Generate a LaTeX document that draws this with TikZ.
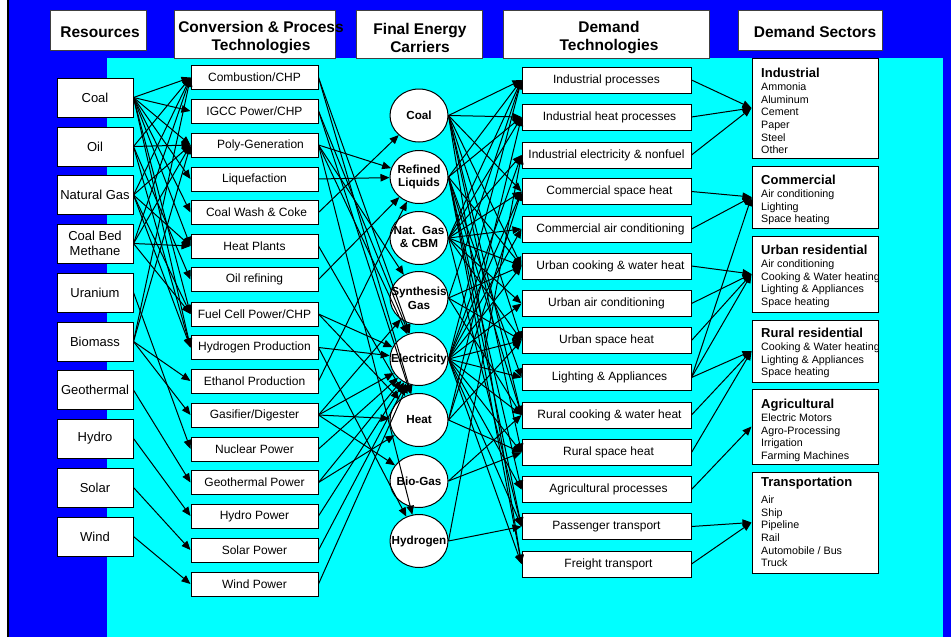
\documentclass[tikz,border=0pt]{standalone}
\usepackage{fontspec}
\setmainfont{Liberation Sans}
\usetikzlibrary{arrows.meta,shapes.geometric}
\definecolor{bgblue}{RGB}{0,0,255}
\definecolor{bgcyan}{RGB}{0,255,255}
\begin{document}
\begin{tikzpicture}[x=1pt,y=-1pt,
  hdr/.style={draw=black!75, fill=white, line width=0.8pt, inner sep=0pt, font=\fontsize{15.5}{18}\selectfont\bfseries, align=center},
  hdrtxt/.style={inner sep=0pt, font=\fontsize{15.5}{18}\selectfont\bfseries, align=center},
  res/.style={draw=black, fill=white, line width=1pt, minimum width=76pt, minimum height=39pt, inner sep=0pt, font=\fontsize{13}{15}\selectfont, align=center},
  conv/.style={draw=black, fill=white, line width=1pt, minimum width=127pt, minimum height=24pt, inner sep=0pt, font=\fontsize{12}{14}\selectfont},
  carr/.style={ellipse, draw=black, fill=white, line width=1pt, minimum width=58pt, minimum height=53pt, inner sep=0pt},
  carrtxt/.style={inner sep=0pt, font=\fontsize{11.7}{13.8}\selectfont\bfseries, align=center},
  dem/.style={draw=black, fill=white, line width=1pt, minimum width=169pt, minimum height=26pt, inner sep=0pt, font=\fontsize{12}{14}\selectfont},
  sec/.style={draw=black, fill=white, line width=1pt, inner sep=0pt, minimum width=126pt},
  sectxt/.style={anchor=north west, inner sep=0pt, align=left, font=\fontsize{10.7}{12.7}\selectfont},
  arr/.style={-{Triangle[length=9pt,width=7.5pt]}, line width=1pt, black},
]
\useasboundingbox (0,0) rectangle (951,637);
% background
\fill[white] (0,0) rectangle (951,637);
\fill[bgblue] (8,0) rectangle (951,637);
\fill[black] (6.8,0) rectangle (8.5,637);
\fill[bgcyan] (107,58) rectangle (943,637);

% headers
\node[hdr, minimum width=96pt, minimum height=40pt] (hRes) at (98,30) {};
\node[hdrtxt] (hResT) at (100,32) {Resources};
\node[hdr, minimum width=161pt, minimum height=48pt] (hConv) at (254.5,34) {};
\node[hdrtxt] (hConvT) at (261,38) {Conversion \& Process\\Technologies};
\node[hdr, minimum width=126pt, minimum height=48pt] (hFin) at (419,34) {};
\node[hdrtxt] (hFinT) at (420,38) {Final Energy\\Carriers};
\node[hdr, minimum width=206pt, minimum height=48pt] (hDem) at (606,34) {};
\node[hdrtxt] (hDemT) at (609,38) {Demand\\Technologies};
\node[hdr, minimum width=144pt, minimum height=40pt] (hSec) at (810,30) {};
\node[hdrtxt] (hSecT) at (815,32) {Demand Sectors};

% resources
\node[res] (rCoal)  at (95,97.5)  {Coal};
\node[res] (rOil)   at (95,146.5) {Oil};
\node[res] (rNG)    at (95,195)   {Natural Gas};
\node[res] (rCBM)   at (95,243.5) {Coal Bed\\Methane};
\node[res] (rUr)    at (95,292.5) {Uranium};
\node[res] (rBio)   at (95,341.5) {Biomass};
\node[res] (rGeo)   at (95,390)   {Geothermal};
\node[res] (rHydro) at (95,438.5) {Hydro};
\node[res] (rSolar) at (95,487.5) {Solar};
\node[res] (rWind)  at (95,536.5) {Wind};

% conversion
\node[conv] (cvComb)  at (254.5,77.5)  {Combustion/CHP};
\node[conv] (cvIGCC)  at (254.5,111)   {IGCC Power/CHP};
\node[conv] (cvPoly)  at (254.5,145)   {\hspace*{12pt}Poly-Generation};
\node[conv] (cvLiq)   at (254.5,179)   {Liquefaction};
\node[conv] (cvWash)  at (254.5,212.5) {\hspace*{4pt}Coal Wash \& Coke};
\node[conv] (cvHeat)  at (254.5,246)   {Heat Plants};
\node[conv] (cvOil)   at (254.5,279.5) {Oil refining};
\node[conv] (cvFuel)  at (254.5,314)   {Fuel Cell Power/CHP};
\node[conv] (cvHyd)   at (254.5,347.5) {Hydrogen Production};
\node[conv] (cvEth)   at (254.5,381)   {Ethanol Production};
\node[conv] (cvGas)   at (254.5,415)   {Gasifier/Digester};
\node[conv] (cvNuc)   at (254.5,449)   {Nuclear Power};
\node[conv] (cvGeo)   at (254.5,482.5) {Geothermal Power};
\node[conv] (cvHydro) at (254.5,516)   {Hydro Power};
\node[conv] (cvSolar) at (254.5,550)   {Solar Power};
\node[conv] (cvWind)  at (254.5,584)   {Wind Power};

% carriers
\node[carr] (cC) at (419,115.5) {};
\node[carr] (cR) at (419,177)   {};
\node[carr] (cN) at (419,238)   {};
\node[carr] (cS) at (419,298)   {};
\node[carr] (cE) at (419,359)   {};
\node[carr] (cH) at (419,420)   {};
\node[carr] (cB) at (419,481)   {};
\node[carr] (cY) at (419,541)   {};
\node[carrtxt] (cCt) at (cC) {Coal};
\node[carrtxt] (cRt) at (cR) {Refined\\Liquids};
\node[carrtxt] (cNt) at (419,237) {Nat.\ \ Gas\\\& CBM};
\node[carrtxt] (cSt) at (cS) {Synthesis\\Gas};
\node[carrtxt] (cEt) at (cE) {Electricity};
\node[carrtxt] (cHt) at (cH) {Heat};
\node[carrtxt] (cBt) at (cB) {Bio-Gas};
\node[carrtxt] (cYt) at (cY) {Hydrogen};

% demand technologies
\node[dem] (dIP) at (606.5,80)    {Industrial processes};
\node[dem] (dIH) at (606.5,117)   {\hspace*{6pt}Industrial heat processes};
\node[dem] (dIE) at (606.5,155)   {Industrial electricity \& nonfuel};
\node[dem] (dCH) at (606.5,191.5) {\hspace*{6pt}Commercial space heat};
\node[dem] (dCA) at (606.5,229)   {\hspace*{8pt}Commercial air conditioning};
\node[dem] (dUC) at (606.5,266)   {\hspace*{8pt}Urban cooking \& water heat};
\node[dem] (dUA) at (606.5,303.5) {Urban air conditioning};
\node[dem] (dUH) at (606.5,340.5) {Urban space heat};
\node[dem] (dLi) at (606.5,377.5) {\hspace*{6pt}Lighting \& Appliances};
\node[dem] (dRC) at (606.5,415)   {\hspace*{6pt}Rural cooking \& water heat};
\node[dem] (dRH) at (606.5,452.5) {\hspace*{4pt}Rural space heat};
\node[dem] (dAg) at (606.5,489.5) {\hspace*{4pt}Agricultural processes};
\node[dem] (dPa) at (606.5,526.5) {Passenger transport};
\node[dem] (dFr) at (606.5,564)   {\hspace*{4pt}Freight transport};

% demand sectors
\node[sec, minimum height=100pt] (sInd) at (815,108) {};
\node[sec, minimum height=62pt]  (sCom) at (815,197) {};
\node[sec, minimum height=76pt]  (sUrb) at (815,274) {};
\node[sec, minimum height=62pt]  (sRur) at (815,351) {};
\node[sec, minimum height=75pt]  (sAgr) at (815,426.5) {};
\node[sec, minimum height=101pt] (sTra) at (815,522.5) {};

\node[sectxt] (tInd) at (761,68)  {{\fontsize{13}{15}\selectfont\bfseries Industrial}\\Ammonia\\Aluminum\\Cement\\Paper\\Steel\\Other};
\node[sectxt] (tCom) at (761,175) {{\fontsize{13}{15}\selectfont\bfseries Commercial}\\Air conditioning\\Lighting\\Space heating};
\node[sectxt] (tUrb) at (761,245) {{\fontsize{13}{15}\selectfont\bfseries Urban residential}\\Air conditioning\\Cooking \& Water heating\\Lighting \& Appliances\\Space heating};
\node[sectxt] (tRur) at (761,328) {{\fontsize{13}{15}\selectfont\bfseries Rural residential}\\Cooking \& Water heating\\Lighting \& Appliances\\Space heating};
\node[sectxt] (tAgr) at (761,399) {{\fontsize{13}{15}\selectfont\bfseries Agricultural}\\Electric Motors\\Agro-Processing\\Irrigation\\Farming Machines};
\node[sectxt] (tTra) at (761,477) {{\fontsize{13}{15}\selectfont\bfseries Transportation}\\[4pt]Air\\Ship\\Pipeline\\Rail\\Automobile / Bus\\Truck};

% resources -> conversion
\foreach \s/\t in {rCoal/cvComb, rCoal/cvIGCC, rCoal/cvPoly, rCoal/cvLiq, rCoal/cvWash, rCoal/cvHeat, rCoal/cvFuel, rCoal/cvHyd,
  rOil/cvComb, rOil/cvPoly, rOil/cvOil, rOil/cvHyd,
  rNG/cvComb, rNG/cvPoly, rNG/cvHeat, rNG/cvFuel, rNG/cvHyd,
  rCBM/cvComb, rCBM/cvPoly, rCBM/cvHeat, rCBM/cvFuel,
  rUr/cvNuc, rBio/cvComb, rBio/cvPoly, rBio/cvEth, rBio/cvGas,
  rGeo/cvGeo, rHydro/cvHydro, rSolar/cvSolar, rWind/cvWind}
  \draw[arr] (\s.east) -- (\t.west);

% conversion -> carriers
\foreach \s/\t in {cvComb/cE, cvComb/cH, cvIGCC/cE, cvIGCC/cH, cvPoly/cR, cvPoly/cS, cvPoly/cE, cvPoly/cY,
  cvLiq/cR, cvWash/cC, cvHeat/cH, cvOil/cR, cvFuel/cE, cvFuel/cH, cvHyd/cE, cvHyd/cY, cvEth/cR,
  cvGas/cS, cvGas/cE, cvGas/cH, cvGas/cB, cvNuc/cE, cvGeo/cE, cvGeo/cH, cvHydro/cE, cvSolar/cE, cvWind/cE}
  \draw[arr] (\s.east) -- (\t);

% carriers -> demand technologies
\foreach \s/\t in {cC/dIP, cC/dIH, cC/dCH, cC/dUC, cC/dUH, cC/dRC, cC/dRH, cC/dFr,
  cR/dIP, cR/dIH, cR/dUC, cR/dRC, cR/dAg, cR/dPa, cR/dFr, cR/dLi,
  cN/dIP, cN/dIH, cN/dIE, cN/dCH, cN/dCA, cN/dUC, cN/dUA, cN/dUH, cN/dPa,
  cS/dIP, cS/dUC, cS/dUH, cS/dRC,
  cE/dIP, cE/dIE, cE/dCH, cE/dCA, cE/dUC, cE/dUA, cE/dUH, cE/dLi, cE/dRC, cE/dRH, cE/dAg, cE/dPa, cE/dFr,
  cH/dIH, cH/dCH, cH/dUH, cH/dRH,
  cB/dRC, cB/dRH, cY/dIE, cY/dPa}
  \draw[arr] (\s.east) -- (\t.west);

% demand technologies -> sectors
\foreach \s/\t in {dIP/sInd, dIH/sInd, dIE/sInd, dCH/sCom, dCA/sCom, dLi/sCom,
  dUC/sUrb, dUA/sUrb, dUH/sUrb, dLi/sUrb, dLi/sRur, dRC/sRur, dRH/sRur,
  dAg/sAgr, dPa/sTra, dFr/sTra}
  \draw[arr] (\s.east) -- (\t.west);
\end{tikzpicture}
\end{document}
